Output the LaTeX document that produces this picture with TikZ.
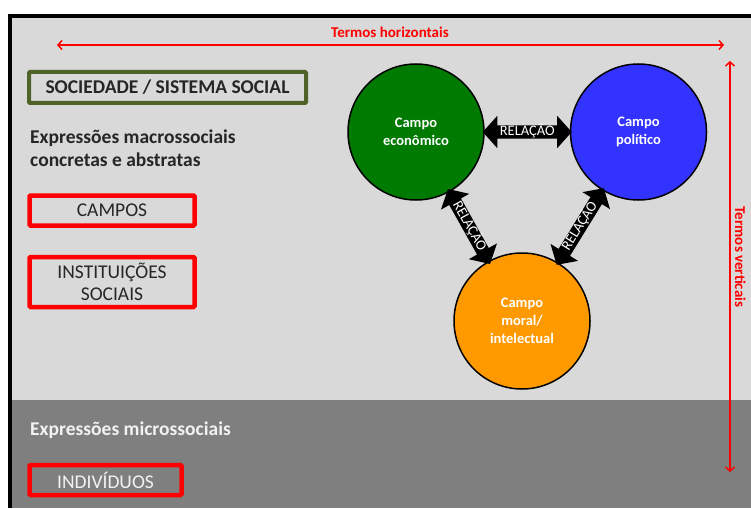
\documentclass[tikz,border=0pt]{standalone}
\usepackage{fontspec}
\setmainfont{Carlito}
\usetikzlibrary{shapes.arrows,arrows.meta}
\definecolor{lgray}{HTML}{D9D9D9}
\definecolor{dgray}{HTML}{7F7F7F}
\definecolor{olivebox}{HTML}{4F6228}
\definecolor{cgreen}{HTML}{007A00}
\definecolor{cblue}{HTML}{3333FF}
\definecolor{corange}{HTML}{FF9900}
\definecolor{txtdark}{HTML}{262626}
\definecolor{txtlight}{HTML}{F2F2F2}
\begin{document}
\begin{tikzpicture}[x=1pt,y=-1pt,
  redbox/.style={draw=red, line width=4.5pt, rounded corners=1pt, minimum width=165pt, minimum height=30pt, inner sep=0pt, font=\fontsize{19.5}{22.5}\selectfont, text=txtdark, align=center},
  campo/.style={circle, draw=black, line width=1.5pt, minimum size=136pt, inner sep=0pt, text=white, font=\bfseries\fontsize{14.5}{18}\selectfont, align=center},
  relarrow/.style={double arrow, fill=black, text=white, font=\fontsize{14.5}{14.5}\selectfont, inner xsep=0.5pt, inner ysep=1pt, text height=9pt, text depth=2pt, double arrow head extend=9.5pt, double arrow tip angle=96, minimum width=32pt, sloped},
  redarrow/.style={draw=red, line width=1.5pt, {Straight Barb[length=4pt,width=9pt]}-{Straight Barb[length=4pt,width=9pt]}},
  lbl/.style={inner sep=0pt, anchor=base west, font=\bfseries\fontsize{19.5}{23}\selectfont}
]
\useasboundingbox (0,0) rectangle (751,508);
% background
\fill[white] (0,0) rectangle (751,508);
\fill[black] (8,14) rectangle (751,508);
\fill[lgray] (12,18) rectangle (751,400);
\fill[dgray] (12,400) rectangle (751,508);

% red measurement arrows
\node[inner sep=0pt, anchor=base, text=red, font=\bfseries\fontsize{15}{15}\selectfont] (th) at (390,38) {Termos horizontais};
\coordinate (hL) at (57,45);
\coordinate (hR) at (724,45);
\draw[redarrow] (hL) -- (hR);
\coordinate (vT) at (730,61);
\coordinate (vB) at (730,472);
\draw[redarrow] (vT) -- (vB);
\node[inner sep=0pt, anchor=base, rotate=-90, text=red, font=\bfseries\fontsize{15}{15}\selectfont] (tv) at (735,257) {Termos verticais};

% left column
\node[draw=olivebox, line width=4pt, rounded corners=1pt, fill=lgray, minimum width=277pt, minimum height=31pt, inner sep=0pt, text=txtdark, font=\bfseries\fontsize{19.5}{19.5}\selectfont] (soc) at (167.5,87.5) {SOCIEDADE / SISTEMA SOCIAL};
\node[lbl, text=txtdark] (macro1) at (30,143) {Expressões macrossociais};
\node[lbl, text=txtdark] (macro2) at (30,166) {concretas e abstratas};
\node[redbox] (campos) at (112,210.5) {CAMPOS};
\node[redbox, minimum height=50pt] (inst) at (112,282) {INSTITUIÇÕES\\SOCIAIS};
\node[lbl, text=txtlight] (micro) at (30,435) {Expressões microssociais};
\node[redbox, minimum width=152pt, text=txtlight] (indiv) at (105.5,480) {INDIVÍDUOS};

% fields
\node[campo, fill=cgreen] (eco) at (416,132) {Campo\\econômico};
\node[campo, fill=cblue] (pol) at (638.5,132) {Campo\\político};
\node[campo, fill=corange] (mor) at (522,321) {Campo\\moral/\\intelectual};

% relations
\path (eco) -- node[relarrow, minimum height=89pt] (r1) {RELAÇÃO} (pol);
\path (eco.center) -- node[relarrow, minimum height=86pt] (r2) {RELAÇÃO} (mor.center);
\path (pol.center) -- node[relarrow, minimum height=90pt] (r3) {RELAÇÃO} (mor.center);
\end{tikzpicture}
\end{document}
